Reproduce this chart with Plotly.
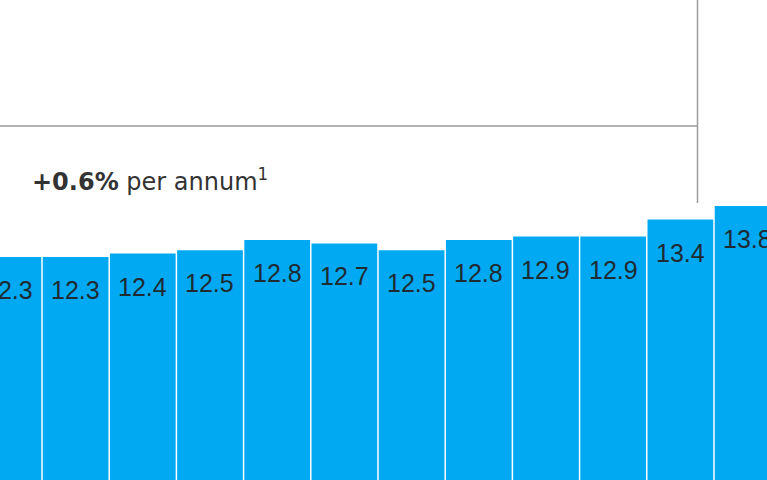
import plotly.graph_objects as go

# bar values (first and last bars are cropped in the original)
values = [12.3, 12.3, 12.4, 12.5, 12.8, 12.7, 12.5, 12.8, 12.9, 12.9, 13.4, 13.8]
positions = list(range(len(values)))
labels = [f"{v:.1f}" for v in values]

growth_label = "<b>+0.6%</b> per annum<sup>1</sup>"

BLUE = "#00a9f2"
LINE = "#9a9a9a"

fig = go.Figure()
fig.add_trace(
    go.Bar(
        x=positions,
        y=values,
        marker=dict(color=BLUE, line=dict(width=0)),
        hoverinfo="skip",
    )
)

# value labels sit a fixed distance below each bar top
for p, v, t in zip(positions, values, labels):
    fig.add_annotation(
        x=p,
        y=v,
        text=t,
        yshift=-33,
        yanchor="middle",
        showarrow=False,
        font=dict(family="Liberation Sans, Arial, sans-serif", size=25, color="#1f2b33"),
    )

fig.add_annotation(
    x=30 / 767,
    y=1 - 180 / 480,
    xref="paper",
    yref="paper",
    xanchor="left",
    yanchor="middle",
    text=growth_label,
    showarrow=False,
    font=dict(family="DejaVu Sans, sans-serif", size=24, color="#333333"),
)

# bracket lines
fig.add_shape(
    type="line", xref="paper", yref="paper",
    x0=0, x1=697.5 / 767, y0=1 - 126 / 480, y1=1 - 126 / 480,
    line=dict(color=LINE, width=1.5),
)
fig.add_shape(
    type="line", xref="paper", yref="paper",
    x0=697.5 / 767, x1=697.5 / 767, y0=1, y1=1 - 203 / 480,
    line=dict(color=LINE, width=1.5),
)

fig.update_layout(
    width=767,
    height=480,
    margin=dict(l=0, r=0, t=0, b=0),
    paper_bgcolor="white",
    plot_bgcolor="white",
    bargap=0.022,
    showlegend=False,
)
fig.update_xaxes(visible=False, range=[-0.125, 11.289])
fig.update_yaxes(visible=False, range=[5.741, 19.859])

fig.write_html(
    "out.html",
    config={"displayModeBar": False},
    post_script="document.body.style.margin = '0px';",
)
